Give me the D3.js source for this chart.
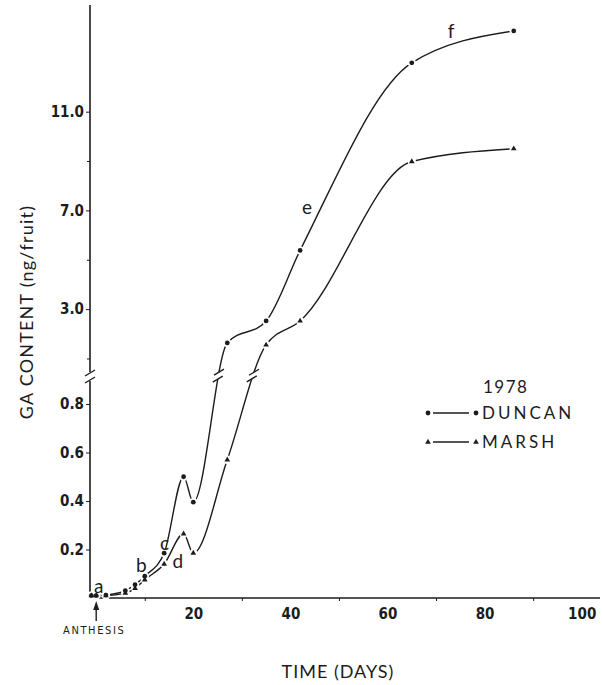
<!DOCTYPE html>
<html>
<head>
<meta charset="utf-8">
<script src="https://cdn.jsdelivr.net/npm/d3@7"></script>
<style>
  body { margin: 0; background: #fff; }
  svg { display: block; }
  .tick text { font-family: "DejaVu Sans Condensed", "Liberation Sans Narrow", sans-serif; font-weight: bold; }
</style>
</head>
<body>
<svg id="chart" width="602" height="685"></svg>
<script>
// sampling days after anthesis
const days = [-1, 0, 2, 6, 8, 10, 14, 18, 20, 27, 35, 42, 65, 86];
// GA content (ng/fruit)
const duncan = [0.01, 0.01, 0.012, 0.03, 0.055, 0.09, 0.185, 0.50, 0.395, 1.63, 2.52, 5.38, 12.98, 14.27];
const marsh = [0.01, 0.01, 0.01, 0.02, 0.04, 0.075, 0.14, 0.265, 0.185, 0.57, 1.55, 2.52, 8.98, 9.5];

const xLabelTicks = [20, 40, 60, 80, 100];
const xMinorTicks = [10, 30, 50, 70, 90];
const yLowTicks = [0.2, 0.4, 0.6, 0.8];
const yHighTicks = [3, 7, 11];
const yHighMinor = [1, 5, 9];

// letters marking stages, placed in data space
const notes = [
  { t: "a", day: 0.5, v: 0.05 },
  { t: "b", day: 9.3, v: 0.136 },
  { t: "c", day: 14.1, v: 0.227 },
  { t: "d", day: 16.8, v: 0.15 },
  { t: "e", day: 43.4, v: 7.13 },
  { t: "f", day: 73.1, v: 14.27 }
];

const svg = d3.select("#chart");
const ink = "#1c1c1c";
const axisX = 90, baseY = 598, breakY = 376;

const x = d3.scaleLinear().domain([0, 100]).range([96.2, 581.7]);
// broken y axis: two linear pieces
const yLow = d3.scaleLinear().domain([0, 0.9]).range([baseY, 379.75]);
const yHigh = d3.scaleLinear().domain([0.25, 15.2]).range([377, 8]);
const yPos = v => v <= 0.9 ? yLow(v) : yHigh(v);

// axes
const xAxis = svg.append("g").attr("transform", `translate(0,${baseY})`);
xAxis.call(d3.axisBottom(x).tickValues(xLabelTicks).tickSize(0).tickPadding(10).tickFormat(d3.format("d")));
xAxis.select(".domain").remove();
xAxis.selectAll(".tick text").attr("font-size", 15).attr("fill", ink);
const xMinor = svg.append("g").attr("transform", `translate(0,${baseY})`);
xMinor.call(d3.axisBottom(x).tickValues(xMinorTicks).tickSize(3).tickFormat(""));
xMinor.select(".domain").remove();
xMinor.selectAll("line").attr("stroke", ink);

svg.append("line").attr("x1", axisX).attr("x2", 600).attr("y1", baseY).attr("y2", baseY)
  .attr("stroke", ink).attr("stroke-width", 1.6);

const yLowAxis = svg.append("g").attr("transform", `translate(${axisX},0)`)
  .call(d3.axisLeft(yLow).tickValues(yLowTicks).tickSize(4).tickPadding(2).tickFormat(d3.format(".1f")));
const yHighAxis = svg.append("g").attr("transform", `translate(${axisX},0)`)
  .call(d3.axisLeft(yHigh).tickValues(yHighTicks).tickSize(4).tickPadding(2).tickFormat(d3.format(".1f")));
const yMinorAxis = svg.append("g").attr("transform", `translate(${axisX},0)`)
  .call(d3.axisLeft(yHigh).tickValues(yHighMinor).tickSize(3).tickFormat(""));
[yLowAxis, yHighAxis, yMinorAxis].forEach(g => {
  g.select(".domain").remove();
  g.selectAll("line").attr("stroke", ink);
  g.selectAll("text").attr("font-size", 15).attr("fill", ink);
});

// y axis line with break
svg.append("line").attr("x1", axisX).attr("x2", axisX).attr("y1", baseY).attr("y2", breakY + 5)
  .attr("stroke", ink).attr("stroke-width", 1.6);
svg.append("line").attr("x1", axisX).attr("x2", axisX).attr("y1", breakY - 4).attr("y2", 5)
  .attr("stroke", ink).attr("stroke-width", 1.6);
[breakY + 4, breakY - 3].forEach(yy => {
  svg.append("line").attr("x1", axisX - 5).attr("y1", yy + 3).attr("x2", axisX + 5).attr("y2", yy - 3)
    .attr("stroke", ink).attr("stroke-width", 1.4);
});

// axis titles
svg.append("text").attr("transform", "translate(33,312) rotate(-90)")
  .attr("text-anchor", "middle").attr("font-family", "Lato, 'DejaVu Sans', sans-serif")
  .attr("font-size", 18).attr("letter-spacing", 1.2).attr("fill", ink)
  .text("GA  CONTENT (ng/fruit)");
svg.append("text").attr("x", 338).attr("y", 678).attr("text-anchor", "middle")
  .attr("font-family", "Lato, 'DejaVu Sans', sans-serif").attr("font-size", 18)
  .attr("letter-spacing", 1).attr("fill", ink).text("TIME (DAYS)");

// anthesis arrow
const ax0 = x(0);
svg.append("line").attr("x1", ax0).attr("x2", ax0).attr("y1", 621).attr("y2", 607)
  .attr("stroke", ink).attr("stroke-width", 1.4);
svg.append("path").attr("d", `M${ax0 - 3},${610} L${ax0},${601} L${ax0 + 3},${610} Z`).attr("fill", ink);
svg.append("text").attr("x", ax0 - 2).attr("y", 634).attr("text-anchor", "middle")
  .attr("font-family", "'DejaVu Sans Condensed', 'Liberation Sans Narrow', sans-serif")
  .attr("font-size", 11).attr("letter-spacing", 1.6).attr("fill", ink).text("ANTHESIS");

// series
const series = [
  { name: "DUNCAN", vals: duncan, shape: "dot" },
  { name: "MARSH", vals: marsh, shape: "tri" }
];
const line = d3.line().x(d => x(d.day)).y(d => yPos(d.v)).curve(d3.curveMonotoneX);

series.forEach(s => {
  s.pts = days.map((d, i) => ({ day: d, v: s.vals[i] }));
  s.path = svg.append("path").datum(s.pts).attr("d", line)
    .attr("fill", "none").attr("stroke", ink).attr("stroke-width", 1.4);
});

// break marks on the curves where they cross the axis break
series.forEach(s => {
  const node = s.path.node();
  const L = node.getTotalLength();
  let prev = node.getPointAtLength(0), hit = null;
  for (let l = 0.5; l <= L; l += 0.5) {
    const p = node.getPointAtLength(l);
    if ((prev.y - breakY) * (p.y - breakY) <= 0) { hit = l; break; }
    prev = p;
  }
  if (hit == null) return;
  const a = node.getPointAtLength(hit + 3.5), b = node.getPointAtLength(hit - 3.5);
  svg.append("line").attr("x1", a.x).attr("y1", a.y).attr("x2", b.x).attr("y2", b.y)
    .attr("stroke", "#fff").attr("stroke-width", 4);
  [a, b].forEach(p => {
    svg.append("line").attr("x1", p.x - 5).attr("y1", p.y + 3).attr("x2", p.x + 5).attr("y2", p.y - 3)
      .attr("stroke", ink).attr("stroke-width", 1.4);
  });
});

// white halos first, then the markers
const tri = d3.symbol(d3.symbolTriangle).size(14);
series.forEach(s => {
  svg.append("g").selectAll("circle").data(s.pts).join("circle")
    .attr("cx", d => x(d.day)).attr("cy", d => yPos(d.v)).attr("r", 4.2).attr("fill", "#fff");
});
series.forEach(s => {
  const g = svg.append("g");
  if (s.shape === "dot") {
    g.selectAll("circle").data(s.pts).join("circle")
      .attr("cx", d => x(d.day)).attr("cy", d => yPos(d.v)).attr("r", 2.4).attr("fill", ink);
  } else {
    g.selectAll("path").data(s.pts).join("path").attr("d", tri)
      .attr("transform", d => `translate(${x(d.day)},${yPos(d.v)})`).attr("fill", ink);
  }
});

// stage letters
svg.append("g").selectAll("text").data(notes).join("text")
  .attr("x", d => x(d.day)).attr("y", d => yPos(d.v)).attr("dy", "0.35em")
  .attr("text-anchor", "middle").attr("font-family", "Lato, 'DejaVu Sans', sans-serif")
  .attr("font-size", 19).attr("fill", ink).text(d => d.t);

// legend
const legend = svg.append("g").attr("font-family", "Lato, 'DejaVu Sans', sans-serif").attr("fill", ink);
legend.append("text").attr("x", 483).attr("y", 393).attr("font-size", 17).attr("letter-spacing", 1.5).text("1978");
series.forEach((s, i) => {
  const yy = 413 + i * 29;
  legend.append("line").attr("x1", 433).attr("x2", 469).attr("y1", yy).attr("y2", yy)
    .attr("stroke", ink).attr("stroke-width", 1.3);
  [428, 476].forEach(cx => {
    if (s.shape === "dot") legend.append("circle").attr("cx", cx).attr("cy", yy).attr("r", 2.4);
    else legend.append("path").attr("d", tri).attr("transform", `translate(${cx},${yy})`);
  });
  legend.append("text").attr("x", 482).attr("y", yy + 6).attr("font-size", 17)
    .attr("letter-spacing", 3).text(s.name);
});
</script>
</body>
</html>
